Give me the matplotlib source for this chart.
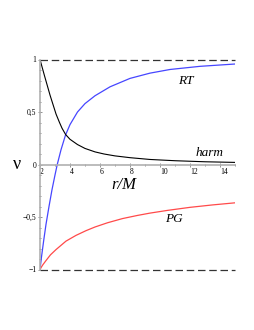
import numpy as np
import matplotlib
matplotlib.use('Agg')
import matplotlib.pyplot as plt
from matplotlib.ticker import MultipleLocator

# values
r_rt = [2.0, 2.1, 2.25, 2.4, 2.6, 2.8, 3.0, 3.15, 3.4, 3.7, 4.0, 4.5, 5.0,
        5.67, 6.67, 8.0, 9.33, 10.67, 12.67, 15.0]
v_rt = [-1.0, -0.88, -0.72, -0.57, -0.40, -0.24, -0.10, 0.0, 0.14, 0.28,
        0.38, 0.50, 0.58, 0.655, 0.74, 0.82, 0.87, 0.905, 0.935, 0.957]

r_harm = [2.0, 2.29, 2.67, 3.07, 3.3, 3.47, 3.71, 4.0, 4.5, 5.0, 5.67, 6.27,
          7.0, 8.0, 9.33, 11.0, 13.0, 15.0]
v_harm = [1.0, 0.85, 0.66, 0.48, 0.40, 0.345, 0.285, 0.24, 0.19, 0.153, 0.12,
          0.10, 0.082, 0.065, 0.048, 0.036, 0.026, 0.02]

r_pg = [2.0, 2.05, 2.1, 2.2, 2.4, 2.7, 3.07, 3.4, 3.73, 4.4, 5.07, 5.67, 6.5,
        7.5, 8.5, 9.33, 10.5, 12.0, 13.5, 15.0]
v_pg = [-1.0, -0.988, -0.975, -0.953, -0.915, -0.86, -0.81, -0.77, -0.73,
        -0.675, -0.63, -0.595, -0.555, -0.515, -0.485, -0.463, -0.437,
        -0.408, -0.385, -0.365]

x_ticks = [2, 4, 6, 8, 10, 12, 14]
y_ticks = [-1, -0.5, 0, 0.5, 1]
y_ticklabels = ['\u22121', '\u22120,5', '0', '0,5', '1']

plt.rcParams['font.family'] = ['Liberation Serif', 'DejaVu Serif']

fig = plt.figure(figsize=(2.55, 3.3), dpi=100)
ax = fig.add_axes([40/255, (330-269.5)/330, 195/255, 210/330])

ax.plot(r_rt, v_rt, color='#4646ff', lw=0.9)
ax.plot(r_harm, v_harm, color='black', lw=0.8)
ax.plot(r_pg, v_pg, color='#ff4a4a', lw=0.9)

# asymptotes
for yv in (1, -1):
    ax.plot([2, 15], [yv, yv], color='#333333', lw=0.9,
            dashes=(6, 3), clip_on=False)

ax.set_xlim(2, 15)
ax.set_ylim(-1, 1)

#axes through the origin
for s in ['top', 'right']:
    ax.spines[s].set_visible(False)
ax.spines['bottom'].set_position(('data', 0))
ax.spines['left'].set_position(('data', 2))
for s in ['bottom', 'left']:
    ax.spines[s].set_color('#b0b0b0')
    ax.spines[s].set_linewidth(1.2)

ax.set_xticks(x_ticks)
ax.xaxis.set_minor_locator(MultipleLocator(1))
ax.set_yticks(y_ticks)
ax.set_yticklabels(y_ticklabels)
ax.yaxis.set_minor_locator(MultipleLocator(0.1))
ax.tick_params(which='both', direction='inout', color='#808080', width=0.6,
               labelsize=5.5, pad=1)
ax.tick_params(which='major', length=3)
ax.tick_params(which='minor', length=2)
for lab in ax.get_xticklabels():
    lab.set_horizontalalignment('left')

ax.text(0.47, 0.0, '\u03bd', fontsize=13, ha='center', va='center')
ax.text(7.6, -0.195, 'r/M', fontsize=12, style='italic',
        ha='center', va='center')
ax.text(11.73, 0.80, 'RT', fontsize=9.5, style='italic',
        ha='center', va='center')
ax.text(13.33, 0.11, 'harm', fontsize=9.5, style='italic',
        ha='center', va='center')
ax.text(10.93, -0.52, 'PG', fontsize=9.5, style='italic',
        ha='center', va='center')

fig.savefig('out.png', dpi=100, facecolor='white')
